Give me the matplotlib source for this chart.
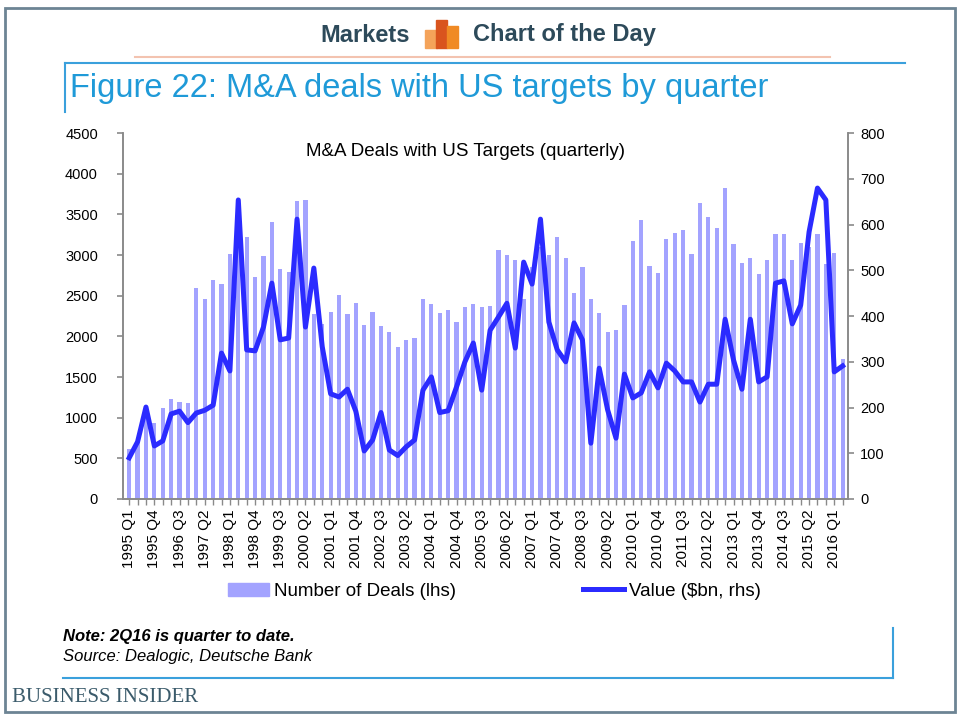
import matplotlib
matplotlib.use("Agg")
import matplotlib.pyplot as plt
from matplotlib.patches import Rectangle
from matplotlib.lines import Line2D

plt.rcParams['font.family'] = ['Liberation Sans', 'DejaVu Sans']

# quarterly M&A deals with US targets, 1995 Q1 .. 2016 Q2
quarters = [f"{y} Q{q}" for y in range(1995, 2017) for q in range(1, 5)][:86]

deals = [610, 700, 1000, 935, 1120, 1230, 1195, 1180, 2590, 2460,
         2700, 2650, 3010, 3300, 3220, 2735, 2990, 3410, 2830, 2795,
         3665, 3680, 2280, 2150, 2300, 2505, 2280, 2415, 2140, 2300,
         2130, 2055, 1870, 1955, 1980, 2460, 2400, 2290, 2325, 2175,
         2365, 2395, 2365, 2375, 3065, 3000, 2940, 2460, 2855, 3100,
         3000, 3225, 2965, 2530, 2855, 2460, 2290, 2055, 2080, 2385,
         3170, 3430, 2865, 2780, 3195, 3275, 3310, 3015, 3640, 3470,
         3335, 3825, 3135, 2900, 2965, 2765, 2940, 3260, 3260, 2940,
         3150, 3100, 3260, 2890, 3025, 1720]

value_bn = [90, 125, 201, 116, 127, 186, 192, 167, 188, 194,
            205, 319, 280, 654, 326, 324, 376, 472, 348, 352,
            612, 376, 505, 333, 230, 223, 240, 192, 105, 129,
            189, 107, 95, 114, 129, 238, 267, 189, 193, 245,
            300, 341, 238, 369, 398, 428, 330, 518, 470, 612,
            387, 326, 300, 385, 348, 122, 286, 195, 133, 273,
            221, 232, 278, 243, 297, 280, 256, 256, 212, 251,
            251, 393, 304, 240, 393, 256, 267, 472, 477, 383,
            424, 584, 680, 654, 278, 291]

bar_color = '#a3a3ff'
line_color = '#2b2bff'
axis_grey = '#8a8a8a'
blue = '#3aa0dc'

x = list(range(len(quarters)))

fig = plt.figure(figsize=(9.6, 7.2), dpi=100)
ax = fig.add_axes([0.128, 0.307, 0.755, 0.508])
ax.bar(x, deals, width=0.5, color=bar_color, zorder=1)
ax2 = ax.twinx()
ax2.plot(x, value_bn, color=line_color, lw=3.6, solid_joinstyle='round', zorder=2)

ax.set_xlim(-0.75, 85.6)
ax.set_ylim(0, 4500)
ax2.set_ylim(0, 800)
ax.set_yticks(range(0, 4501, 500))
ax2.set_yticks(range(0, 801, 100))
ax.set_xticks(x[::3])
ax.set_xticklabels(quarters[::3], rotation=90, fontsize=11)
ax.set_xticks(x, minor=True)

for a in (ax, ax2):
    a.spines['top'].set_visible(False)
    for s in ('left', 'right', 'bottom'):
        a.spines[s].set_color(axis_grey)
        a.spines[s].set_linewidth(1.2)
    a.tick_params(axis='y', labelsize=10.5, length=4, color=axis_grey, width=1.2)
    a.tick_params(axis='x', which='both', length=4, color=axis_grey, width=1)
ax.tick_params(axis='y', pad=14)
ax2.tick_params(axis='y', pad=5)

ax.set_title("M&A Deals with US Targets (quarterly)", fontsize=13.5, x=0.473, y=0.915)

handles = [Rectangle((0, 0), 1, 1, color=bar_color),
           Line2D([], [], color=line_color, lw=3.6)]
fig.legend(handles, ["Number of Deals (lhs)", "Value ($bn, rhs)"],
           loc='center', bbox_to_anchor=(0.515, 0.179), ncol=2, frameon=False,
           prop={'size': 13.5}, columnspacing=6.8, handlelength=2.2,
           handletextpad=0.25)

tf = fig.transFigure
W, H = 960.0, 720.0


def fx(px):
    return px / W


def fy(py):
    return 1 - py / H


# outer frame
fig.add_artist(Rectangle((fx(5), fy(712)), fx(950), 704 / H, transform=tf,
                         fill=False, edgecolor='#6d8494', lw=2))

# header
fig.text(fx(410), fy(35), "Markets", ha='right', va='center', fontsize=17,
         fontweight='bold', color='#2d4a5a')
fig.text(fx(473), fy(35), "Chart of the Day", ha='left', va='center', fontsize=17,
         fontweight='bold', color='#2d4a5a')
fig.add_artist(Rectangle((fx(425), fy(48)), fx(12), 18 / H, transform=tf, color='#f4a35a'))
fig.add_artist(Rectangle((fx(436), fy(48)), fx(11), 28 / H, transform=tf, color='#d9541e'))
fig.add_artist(Rectangle((fx(447), fy(48)), fx(11), 22 / H, transform=tf, color='#f08a24'))
fig.add_artist(Line2D([fx(135), fx(830)], [fy(57), fy(57)], transform=tf,
                      color='#f3c3b0', lw=1.5))

# figure caption box
fig.add_artist(Line2D([fx(65), fx(905)], [fy(63), fy(63)], transform=tf, color=blue, lw=1.5))
fig.add_artist(Line2D([fx(65), fx(65)], [fy(63), fy(112)], transform=tf, color=blue, lw=1.5))
fig.text(fx(70), fy(88), "Figure 22: M&A deals with US targets by quarter",
         ha='left', va='center', fontsize=23.5, color='#1f9ad8')

fig.add_artist(Line2D([fx(893), fx(893)], [fy(628), fy(678)], transform=tf, color=blue, lw=1.5))
fig.add_artist(Line2D([fx(63), fx(893)], [fy(678), fy(678)], transform=tf, color=blue, lw=1.5))
fig.text(fx(63), fy(637), "Note: 2Q16 is quarter to date.", ha='left', va='center',
         fontsize=12, fontstyle='italic', fontweight='bold')
fig.text(fx(63), fy(657), "Source: Dealogic, Deutsche Bank", ha='left', va='center',
         fontsize=12, fontstyle='italic')

fig.text(fx(12), fy(697), "BUSINESS INSIDER", ha='left', va='center', fontsize=15,
         color='#3b5b6b', family=['Liberation Serif', 'DejaVu Serif'])

fig.savefig("out.png", dpi=100, facecolor='white')
